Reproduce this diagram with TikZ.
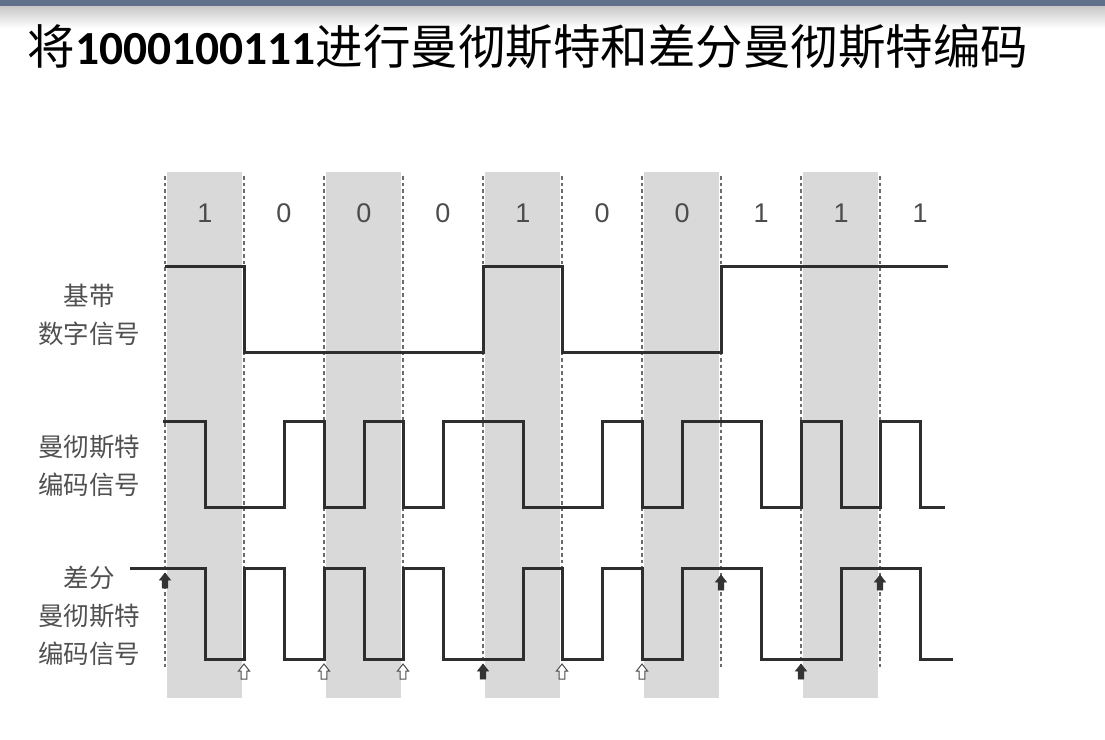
\documentclass[tikz,border=0pt]{standalone}
\usepackage{fontspec}
\setmainfont{Liberation Sans}
\newfontfamily\cjk{Noto Sans CJK SC}
\newfontfamily\titledigits{Carlito}
\definecolor{barblue}{HTML}{5F708A}
\definecolor{sigline}{HTML}{2E2E2E}
\definecolor{labelgray}{HTML}{505050}
\definecolor{bandgray}{HTML}{D9D9D9}
\tikzset{
  band/.style={fill=bandgray, draw=none},
  boundary/.style={dash pattern=on 3.5pt off 3pt, line width=1.6pt, color=black!58},
  signal/.style={line width=3pt, color=sigline, line join=miter},
  sidelabel/.style={font=\cjk\fontsize{25.5}{38}\selectfont, text=labelgray, align=center},
  bitlabel/.style={font=\fontsize{27}{30}\selectfont, text=black!70},
  darkarrow/.pic={\filldraw[fill=black!80, draw=black!80, line width=0.6pt]
    (0,0) -- (5.5,7) -- (2.8,7) -- (2.8,15) -- (-2.8,15) -- (-2.8,7) -- (-5.5,7) -- cycle;},
  openarrow/.pic={\filldraw[fill=white, draw=black!70, line width=1pt]
    (0,0) -- (5.5,7) -- (2.8,7) -- (2.8,15) -- (-2.8,15) -- (-2.8,7) -- (-5.5,7) -- cycle;}
}
\begin{document}
\begin{tikzpicture}[x=1pt, y=-1pt]
  \useasboundingbox (0,0) rectangle (1105,739);
  % top bar of the slide
  \fill[barblue] (0,0) rectangle (1105,6);
  \shade[top color=black!22, bottom color=white] (0,6) rectangle (1105,28);
  \node[anchor=west, font=\fontsize{47.5}{52}\selectfont] (title) at (24,47)
    {\cjk 将{\titledigits\bfseries 1000100111}进行曼彻斯特和差分曼彻斯特编码};
  % shaded bit columns
  \fill[band] (167,172) rectangle (242,698);
  \fill[band] (326,172) rectangle (401,698);
  \fill[band] (485,172) rectangle (560,698);
  \fill[band] (644,172) rectangle (719,698);
  \fill[band] (803,172) rectangle (878,698);
  % bit boundaries
  \begin{scope}[boundary]
    \draw (165,176) -- (165,668);
    \draw (244,176) -- (244,668);
    \draw (324,176) -- (324,668);
    \draw (403,176) -- (403,668);
    \draw (483,176) -- (483,668);
    \draw (562,176) -- (562,668);
    \draw (642,176) -- (642,668);
    \draw (721,176) -- (721,668);
    \draw (801,176) -- (801,668);
    \draw (880,176) -- (880,668);
  \end{scope}
  % bits
  \draw
    (205,213) node[bitlabel] (b1){1}
    (284,213) node[bitlabel] (b2){0}
    (364,213) node[bitlabel] (b3){0}
    (443,213) node[bitlabel] (b4){0}
    (523,213) node[bitlabel] (b5){1}
    (602,213) node[bitlabel] (b6){0}
    (682,213) node[bitlabel] (b7){0}
    (761,213) node[bitlabel] (b8){1}
    (841,213) node[bitlabel] (b9){1}
    (920,213) node[bitlabel] (b10){1};
  % row labels
  \node[sidelabel] (baseband) at (89,315) {基带\\数字信号};
  \node[sidelabel] (manchester) at (89,466) {曼彻斯特\\编码信号};
  \node[sidelabel] (diffmanchester) at (89,616) {差分\\曼彻斯特\\编码信号};
  % signals
  \begin{scope}[signal]
    \draw (165,266) -- (244,266) -- (244,352) -- (483,352) -- (483,266) -- (562,266)
      -- (562,352) -- (721,352) -- (721,266) -- (948,266);
    \draw (163,421) -- (205,421) -- (205,507) -- (284,507) -- (284,421) -- (324,421)
      -- (324,507) -- (364,507) -- (364,421) -- (403,421) -- (403,507) -- (443,507)
      -- (443,421) -- (523,421) -- (523,507) -- (602,507) -- (602,421) -- (642,421)
      -- (642,507) -- (682,507) -- (682,421) -- (761,421) -- (761,507) -- (801,507)
      -- (801,421) -- (841,421) -- (841,507) -- (880,507) -- (880,421) -- (920,421)
      -- (920,507) -- (945,507);
    \draw (130,568) -- (205,568) -- (205,659) -- (244,659) -- (244,568) -- (284,568)
      -- (284,659) -- (324,659) -- (324,568) -- (364,568) -- (364,659) -- (403,659)
      -- (403,568) -- (443,568) -- (443,659) -- (523,659) -- (523,568) -- (562,568)
      -- (562,659) -- (602,659) -- (602,568) -- (642,568) -- (642,659) -- (682,659)
      -- (682,568) -- (761,568) -- (761,659) -- (841,659) -- (841,568) -- (920,568)
      -- (920,659) -- (953,659);
  \end{scope}
  % transition marks
  \pic at (165,573) {darkarrow};
  \pic at (244,664) {openarrow};
  \pic at (324,664) {openarrow};
  \pic at (403,664) {openarrow};
  \pic at (483,664) {darkarrow};
  \pic at (562,664) {openarrow};
  \pic at (642,664) {openarrow};
  \pic at (721,575) {darkarrow};
  \pic at (801,664) {darkarrow};
  \pic at (880,575) {darkarrow};
\end{tikzpicture}
\end{document}
